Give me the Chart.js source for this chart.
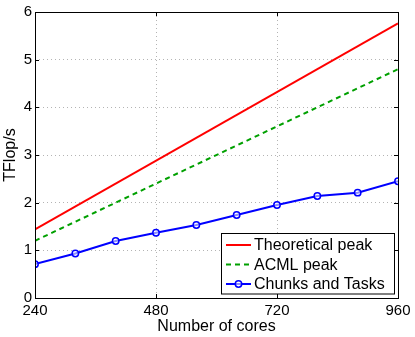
<!DOCTYPE html>
<html>
<head>
<meta charset="utf-8">
<script src="https://cdn.jsdelivr.net/npm/chart.js@4"></script>
<style>
html,body{margin:0;padding:0;background:#fff;}
#wrap{width:415px;height:337px;position:relative;}
</style>
</head>
<body>
<div id="wrap"><canvas id="c" width="415" height="337"></canvas></div>
<script>
// Data
const coresTheory = [240, 960];
const theoreticalPeak = [1.44, 5.76];
const coresAcml = [240, 960];
const acmlPeak = [1.2, 4.8];
const coresChunks = [240, 320, 400, 480, 560, 640, 720, 800, 880, 960];
const chunksTasks = [0.71, 0.935, 1.195, 1.37, 1.53, 1.74, 1.95, 2.14, 2.21, 2.45];
const xTicks = [240, 480, 720, 960];
const yTicks = [0, 1, 2, 3, 4, 5, 6];
const seriesLabels = ['Theoretical peak', 'ACML peak', 'Chunks and Tasks'];

const FONT = "'Liberation Sans', Arial, Helvetica, sans-serif";

function pts(xs, ys){ return xs.map((x,i)=>({x:x, y:ys[i]})); }

const framePlugin = {
  id: 'frame',
  afterDatasetsDraw(chart){
    const {ctx, chartArea:a, scales} = chart;
    ctx.save();
    ctx.strokeStyle = '#000';
    ctx.lineWidth = 1;
    ctx.setLineDash([]);
    ctx.strokeRect(Math.round(a.left)+0.5, Math.round(a.top)+0.5, Math.round(a.right-a.left), Math.round(a.bottom-a.top));
    const tl = 4;
    ctx.beginPath();
    xTicks.forEach(v=>{
      const x = Math.round(scales.x.getPixelForValue(v))+0.5;
      ctx.moveTo(x, a.bottom); ctx.lineTo(x, a.bottom-tl);
      ctx.moveTo(x, a.top); ctx.lineTo(x, a.top+tl);
    });
    yTicks.forEach(v=>{
      const y = Math.round(scales.y.getPixelForValue(v))+0.5;
      ctx.moveTo(a.left, y); ctx.lineTo(a.left+tl, y);
      ctx.moveTo(a.right, y); ctx.lineTo(a.right-tl, y);
    });
    ctx.stroke();
    ctx.restore();
  },
  afterDraw(chart){
    const {ctx} = chart;
    const ds = chart.data.datasets;
    const bx = 221.5, by = 233.5, bw = 173, bh = 60.5;
    ctx.save();
    ctx.fillStyle = '#fff';
    ctx.fillRect(bx, by, bw, bh);
    ctx.strokeStyle = '#000';
    ctx.lineWidth = 1;
    ctx.strokeRect(bx, by, bw, bh);
    ctx.font = '16px ' + FONT;
    ctx.textBaseline = 'middle';
    ctx.textAlign = 'left';
    const rows = [245, 264.5, 284];
    ds.forEach((d,i)=>{
      const y = rows[i];
      ctx.save();
      ctx.strokeStyle = d.borderColor;
      ctx.lineWidth = d.borderWidth;
      ctx.setLineDash(d.borderDash || []);
      ctx.beginPath();
      ctx.moveTo(226, y); ctx.lineTo(251, y);
      ctx.stroke();
      ctx.setLineDash([]);
      if (d.pointRadius > 0){
        ctx.beginPath();
        ctx.arc(238.5, y, d.pointRadius, 0, Math.PI*2);
        ctx.fillStyle = d.pointBackgroundColor;
        ctx.fill();
        ctx.lineWidth = d.pointBorderWidth;
        ctx.strokeStyle = d.borderColor;
        ctx.stroke();
      }
      ctx.restore();
      ctx.fillStyle = '#000';
      ctx.fillText(d.label, 254, y+1);
    });
    ctx.restore();
  }
};

new Chart(document.getElementById('c'), {
  type: 'line',
  data: {
    datasets: [
      {label: seriesLabels[0], data: pts(coresTheory, theoreticalPeak), borderColor: '#ff0000', borderWidth: 2, pointRadius: 0, fill: false, tension: 0},
      {label: seriesLabels[1], data: pts(coresAcml, acmlPeak), borderColor: '#00a000', borderWidth: 2, borderDash: [5,4], pointRadius: 0, fill: false, tension: 0},
      {label: seriesLabels[2], data: pts(coresChunks, chunksTasks), borderColor: '#0000ff', borderWidth: 2, pointRadius: 3.2, pointBorderWidth: 1.5, pointBackgroundColor: 'rgba(255,255,255,0.55)', pointBorderColor: '#0000ff', fill: false, tension: 0}
    ]
  },
  options: {
    responsive: false,
    animation: false,
    devicePixelRatio: 1,
    layout: {padding: {left: 0, right: 17, top: 12, bottom: 0}},
    plugins: {legend: {display: false}, tooltip: {enabled: false}},
    scales: {
      x: {
        type: 'linear', min: 240, max: 960,
        afterFit(s){ s.height = 39; },
        afterBuildTicks(s){ s.ticks = xTicks.map(v=>({value:v})); },
        ticks: {color: '#000', font: {family: FONT, size: 15}, padding: 4, maxRotation: 0, autoSkip: false},
        grid: {color: '#b4b4b4', lineWidth: 1, drawTicks: false},
        border: {display: false, dash: [1,3]},
        title: {display: true, text: 'Number of cores', color: '#000', font: {family: FONT, size: 16, lineHeight: 1.2}, padding: {top: 0, bottom: 1}}
      },
      y: {
        type: 'linear', min: 0, max: 6,
        afterFit(s){ s.width = 35; },
        afterBuildTicks(s){ s.ticks = yTicks.map(v=>({value:v})); },
        ticks: {color: '#000', font: {family: FONT, size: 15}, padding: 3},
        grid: {color: '#b4b4b4', lineWidth: 1, drawTicks: false},
        border: {display: false, dash: [1,3]},
        title: {display: true, text: 'TFlop/s', color: '#000', font: {family: FONT, size: 16, lineHeight: 1.2}, padding: {top: 1, bottom: 0}}
      }
    }
  },
  plugins: [framePlugin]
});
</script>
</body>
</html>
